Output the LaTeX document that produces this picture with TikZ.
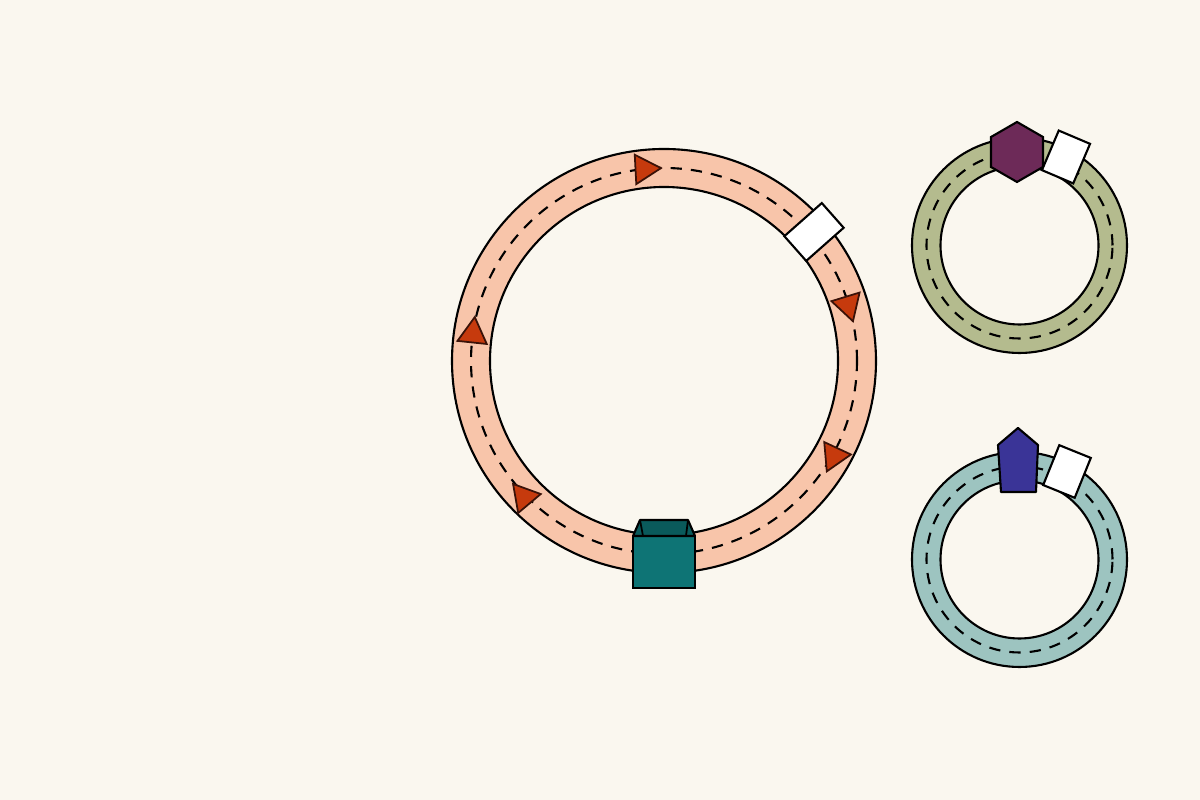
\documentclass[tikz,border=0pt]{standalone}
\usepackage{xcolor}
\usetikzlibrary{shapes.geometric}
\definecolor{paper}{HTML}{FAF7EF}
\definecolor{peach}{HTML}{F8C5AA}
\definecolor{sage}{HTML}{B4BB8E}
\definecolor{mint}{HTML}{9DC4C0}
\definecolor{plum}{HTML}{6D2A58}
\definecolor{indigo}{HTML}{3A3497}
\definecolor{teal}{HTML}{0E7475}
\definecolor{tealtop}{HTML}{0A5A5B}
\definecolor{rust}{HTML}{C63A0D}
\definecolor{rustedge}{HTML}{3A1208}

\begin{document}
\begin{tikzpicture}[
    ring/.style={line width=0.6pt},
    lane/.style={line width=0.6pt, dash pattern=on 3.2pt off 2.6pt},
    tri/.style={regular polygon, regular polygon sides=3, draw=rustedge, fill=rust,
      line width=0.5pt, minimum size=0.34cm, inner sep=0pt},
    tag/.style={draw, fill=white, line width=0.6pt, inner sep=0pt,
      minimum width=0.33cm, minimum height=0.5cm}]
    \useasboundingbox (0,0) rectangle (12,8);
    \fill[paper] (0,0) rectangle (12,8);
    \coordinate (bigc) at (6.64,4.39);
    \coordinate (topc) at (10.195,5.545);
    \coordinate (botc) at (10.195,2.405);
    % big ring
    \fill[peach, even odd rule] (bigc) circle (2.12) (bigc) circle (1.74);
    \draw[ring] (bigc) circle (2.12);
    \draw[ring] (bigc) circle (1.74);
    \draw[lane] (bigc) circle (1.93);
    % small rings
    \fill[sage, even odd rule] (topc) circle (1.075) (topc) circle (0.79);
    \draw[ring] (topc) circle (1.075);
    \draw[ring] (topc) circle (0.79);
    \draw[lane] (topc) circle (0.93);
    \fill[mint, even odd rule] (botc) circle (1.075) (botc) circle (0.79);
    \draw[ring] (botc) circle (1.075);
    \draw[ring] (botc) circle (0.79);
    \draw[lane] (botc) circle (0.93);
    % markers on the big ring
    \node[tri, rotate=-87] (t1) at (6.44,6.31) {};
    \node[tri, rotate=-163] (t2) at (8.48,4.95) {};
    \node[tri, rotate=-85] (t3) at (8.34,3.44) {};
    \node[tri, rotate=-80] (t4) at (5.24,3.03) {};
    \node[tri, rotate=-6] (t5) at (4.73,4.66) {};
    \node[tag, rotate=-48.5] (gate) at (8.14,5.68) {};
    % box
    \draw[fill=teal, line width=0.6pt] (6.33,2.12) rectangle (6.95,2.64);
    \draw[fill=tealtop, line width=0.6pt, line join=round]
      (6.33,2.64) -- (6.40,2.80) -- (6.88,2.80) -- (6.95,2.64) -- cycle;
    \draw[line width=0.5pt] (6.40,2.80) -- (6.43,2.64);
    \draw[line width=0.5pt] (6.88,2.80) -- (6.86,2.64);
    % small ring pieces
    \node[regular polygon, regular polygon sides=6, shape border rotate=30, draw,
      fill=plum, line width=0.6pt, minimum size=0.6cm, inner sep=0pt] (hex) at (10.17,6.48) {};
    \node[tag, rotate=-23, minimum width=0.34cm, minimum height=0.43cm] (tagA) at (10.66,6.43) {};
    \draw[fill=indigo, line width=0.6pt, line join=round]
      (10.18,3.72) -- (10.38,3.55) -- (10.36,3.08) -- (10.01,3.08) -- (9.98,3.55) -- cycle;
    \node[tag, rotate=-22, minimum width=0.34cm, minimum height=0.43cm] (tagB) at (10.67,3.285) {};
\end{tikzpicture}
\end{document}
